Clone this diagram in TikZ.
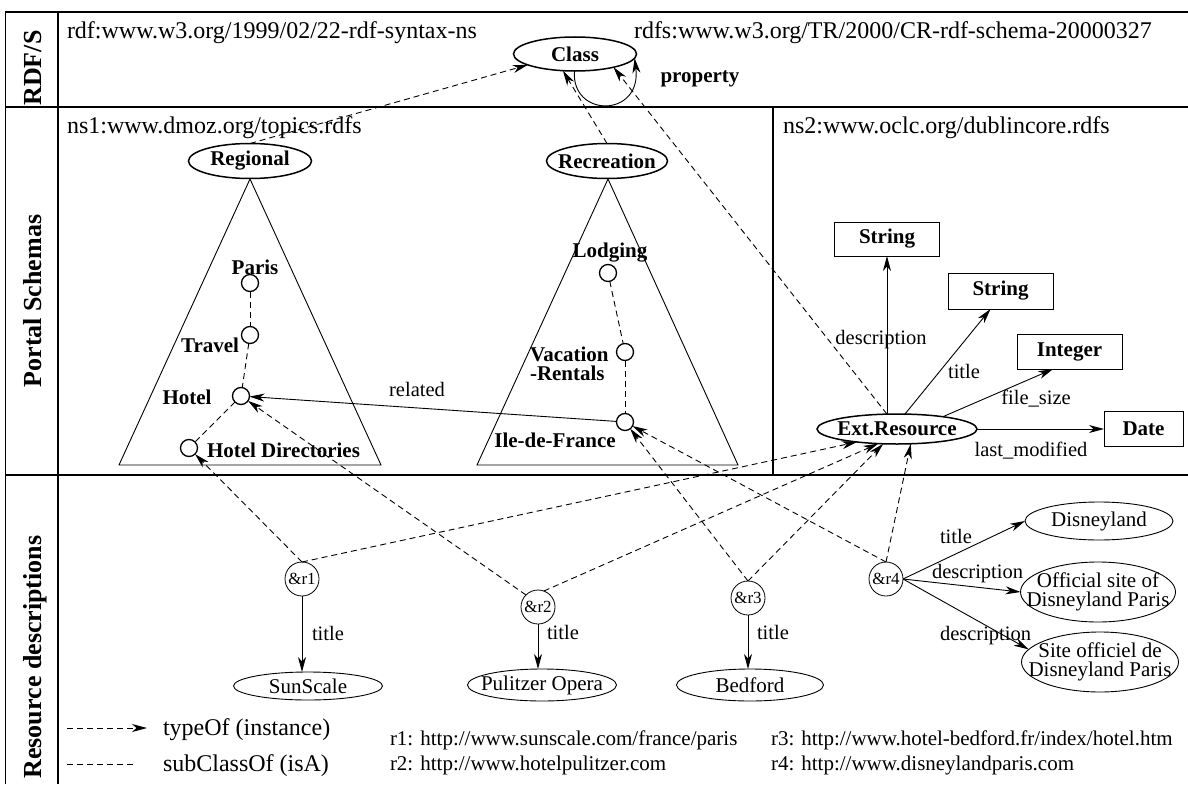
\documentclass[tikz,border=0pt]{standalone}
\usepackage{fontspec}
\setmainfont{Liberation Serif}
\usetikzlibrary{shapes.geometric,arrows.meta}
\begin{document}
\begin{tikzpicture}[x=1pt,y=-1pt,
  every node/.style={inner sep=0pt,outer sep=0pt},
  frame/.style={line width=1.2pt},
  hdr/.style={font=\fontsize{24}{28}\selectfont,anchor=base west},
  side/.style={font=\fontsize{26}{30}\selectfont\bfseries,rotate=90,anchor=base},
  cls/.style={ellipse,draw,line width=1.5pt,inner xsep=-30pt,inner ysep=0pt,font=\fontsize{21}{24}\selectfont\bfseries},
  cnode/.style={circle,draw,line width=1.3pt,minimum size=17pt},
  blab/.style={font=\fontsize{21}{24}\selectfont\bfseries},
  lab/.style={font=\fontsize{20.5}{24}\selectfont},
  tbox/.style={rectangle,draw,line width=0.9pt,font=\fontsize{21}{24}\selectfont\bfseries},
  res/.style={circle,draw,line width=0.8pt,minimum size=34pt,font=\fontsize{17}{20}\selectfont},
  lit/.style={ellipse,draw,line width=0.9pt,inner xsep=-30pt,inner ysep=0pt,font=\fontsize{21}{19.5}\selectfont,align=center},
  url/.style={font=\fontsize{21}{24}\selectfont,anchor=base west},
  leg/.style={font=\fontsize{24}{28}\selectfont,anchor=base west},
  tri/.style={line width=0.9pt},
  arrowtip/.style={-{Stealth[length=15pt,width=8pt,inset=4.5pt]}},
  typeof/.style={dash pattern=on 6pt off 4pt,line width=0.9pt,arrowtip},
  subcl/.style={dash pattern=on 6pt off 4pt,line width=0.9pt},
  prop/.style={line width=0.9pt,arrowtip},
]
\useasboundingbox (0,0) rectangle (1188,784);
% frame
\draw[frame] (5.5,784) -- (5.5,12) -- (1188,12);
\draw[frame] (58,12) -- (58,784);
\draw[frame] (5.5,107) -- (1188,107);
\draw[frame] (5.5,475) -- (1188,475);
\draw[frame] (773,107) -- (773,475);
% side labels
\node[side] (lrdfs) at (41,68) {RDF/S};
\node[side] (lportal) at (41,301) {Portal Schemas};
\node[side] (lres) at (41,657) {Resource descriptions};
% headers
\node[hdr] (hrdf) at (67,39) {rdf:www.w3.org/1999/02/22-rdf-syntax-ns};
\node[hdr] (hrdfs) at (634,39) {rdfs:www.w3.org/TR/2000/CR-rdf-schema-20000327};
\node[hdr] (hns1) at (67,133) {ns1:www.dmoz.org/topics.rdfs};
\node[hdr] (hns2) at (783,133) {ns2:www.oclc.org/dublincore.rdfs};
% RDF/S
\node[cls,minimum width=123pt,minimum height=34pt] (class) at (575,54) {Class};
\node[blab,anchor=base] (lprop) at (700,82) {property};
\draw[prop] (class.268) .. controls (571,118) and (642,118) .. (class.356);
% triangles
\draw[tri] (250,179) -- (119,465) -- (381,465) -- cycle;
\draw[tri] (608,179) -- (477,465) -- (738,465) -- cycle;
\node[cls,minimum width=123pt,minimum height=35pt] (regional) at (250,161) {Regional};
\node[cls,minimum width=121pt,minimum height=35pt] (recreation) at (607,161) {Recreation};
% class nodes in trees
\node[cnode] (paris) at (250,283) {};
\node[cnode] (travel) at (250,335) {};
\node[cnode] (hotel) at (241,396) {};
\node[cnode] (hdir) at (189,448) {};
\node[cnode] (lodging) at (608,273) {};
\node[cnode] (vacation) at (625,352) {};
\node[cnode] (ile) at (625,422) {};
\node[blab,anchor=base] (tparis) at (255,274) {Paris};
\node[blab,anchor=base east] (ttravel) at (239,352) {Travel};
\node[blab,anchor=base] (thotel) at (187,404) {Hotel};
\node[blab,anchor=base west] (thdir) at (207,457) {Hotel Directories};
\node[blab,anchor=base] (tlodging) at (610,257) {Lodging};
\node[blab,anchor=west,align=left,font=\fontsize{21}{19.5}\selectfont\bfseries] (tvac) at (530,364) {Vacation\\-Rentals};
\node[blab,anchor=base] (tile) at (555,447) {Ile-de-France};
\draw[subcl] (paris) -- (travel);
\draw[subcl] (travel) -- (hotel);
\draw[subcl] (hotel) -- (hdir);
\draw[subcl] (lodging) -- (vacation);
\draw[subcl] (vacation) -- (ile);
\draw[prop] (ile) -- (hotel);
\node[lab,anchor=base] (lrel) at (417,396) {related};
% dublin core
\node[cls,minimum width=160pt,minimum height=30pt] (ext) at (897,429) {Ext.Resource};
\node[tbox,minimum width=105pt,minimum height=34pt] (s1) at (887,239) {String};
\node[tbox,minimum width=105pt,minimum height=36pt] (s2) at (1000.5,291) {String};
\node[tbox,minimum width=105pt,minimum height=35pt] (int) at (1069.5,351.5) {Integer};
\node[tbox,minimum width=79pt,minimum height=35pt] (date) at (1143.5,429) {Date};
\draw[prop] (ext.124) -- (ext.124 |- s1.south);
\draw[prop] (ext.62) -- (s2.241);
\draw[prop] (ext.15) -- (int.227);
\draw[prop] (ext.east) -- (date.west);
\node[lab,anchor=base] (ldesc) at (881,344) {description};
\node[lab,anchor=base] (ltitle) at (964,378) {title};
\node[lab,anchor=base] (lfs) at (1036,404) {file\_size};
\node[lab,anchor=base] (llm) at (1031,456) {last\_modified};
% typeOf to Class
\draw[typeof] (regional.north) -- (class.193);
\draw[typeof] (recreation.north) -- (class.234);
\draw[typeof] (ext.124) -- (class.341);
% resources
\node[res] (r1) at (302,579) {\&r1};
\node[res] (r2) at (538,607) {\&r2};
\node[res] (r3) at (748,598) {\&r3};
\node[res] (r4) at (886,579) {\&r4};
\node[lit,minimum width=149pt,minimum height=28pt] (sun) at (308,686) {SunScale};
\node[lit,minimum width=149pt,minimum height=32pt] (pul) at (542,685) {Pulitzer Opera};
\node[lit,minimum width=147pt,minimum height=32pt] (bed) at (750,685) {Bedford};
\node[lit,minimum width=148pt,minimum height=38pt] (dis) at (1099,521) {Disneyland};
\node[lit,minimum width=155pt,minimum height=60pt] (off) at (1098,592) {Official site of\\Disneyland Paris};
\node[lit,minimum width=157pt,minimum height=60pt] (site) at (1100,662) {Site officiel de\\Disneyland Paris};
\draw[prop] (r1.south) -- (r1.south |- sun.north);
\draw[prop] (r2.south) -- (r2.south |- pul.north);
\draw[prop] (r3.south) -- (r3.south |- bed.north);
\node[lab,anchor=base west] (lt1) at (312,640) {title};
\node[lab,anchor=base west] (lt2) at (547,639) {title};
\node[lab,anchor=base west] (lt3) at (757,639) {title};
\draw[prop] (r4.east) -- (dis.west);
\draw[prop] (r4.east) -- (off.west);
\draw[prop] (r4.east) -- (site.170);
\node[lab,anchor=base west] (lt4) at (940,543) {title};
\node[lab,anchor=base west] (ld4a) at (932,578) {description};
\node[lab,anchor=base west] (ld4b) at (940,640) {description};
\draw[typeof] (r1.north) -- (hdir);
\draw[typeof] (r1.north) -- (ext.198);
\draw[typeof] (r2.135) -- (hotel);
\draw[typeof] (r2.70) -- (ext.218);
\draw[typeof] (r3.north) -- (ile);
\draw[typeof] (r3.north) -- (ext.227);
\draw[typeof] (r4.north) -- (ile);
\draw[typeof] (r4.north) -- (ext.313);
% legend
\coordinate (la) at (67,728);
\coordinate (lb) at (147,728);
\coordinate (lc) at (67,764);
\coordinate (ld) at (135,764);
\draw[typeof] (la) -- (lb);
\draw[subcl] (lc) -- (ld);
\node[leg] (ltype) at (163,735) {typeOf (instance)};
\node[leg] (lsub) at (163,771) {subClassOf (isA)};
\node[url] (u1) at (390,745) {r1: http://www.sunscale.com/france/paris};
\node[url] (u2) at (390,770) {r2: http://www.hotelpulitzer.com};
\node[url] (u3) at (771,745) {r3: http://www.hotel-bedford.fr/index/hotel.htm};
\node[url] (u4) at (771,770) {r4: http://www.disneylandparis.com};
\end{tikzpicture}
\end{document}
